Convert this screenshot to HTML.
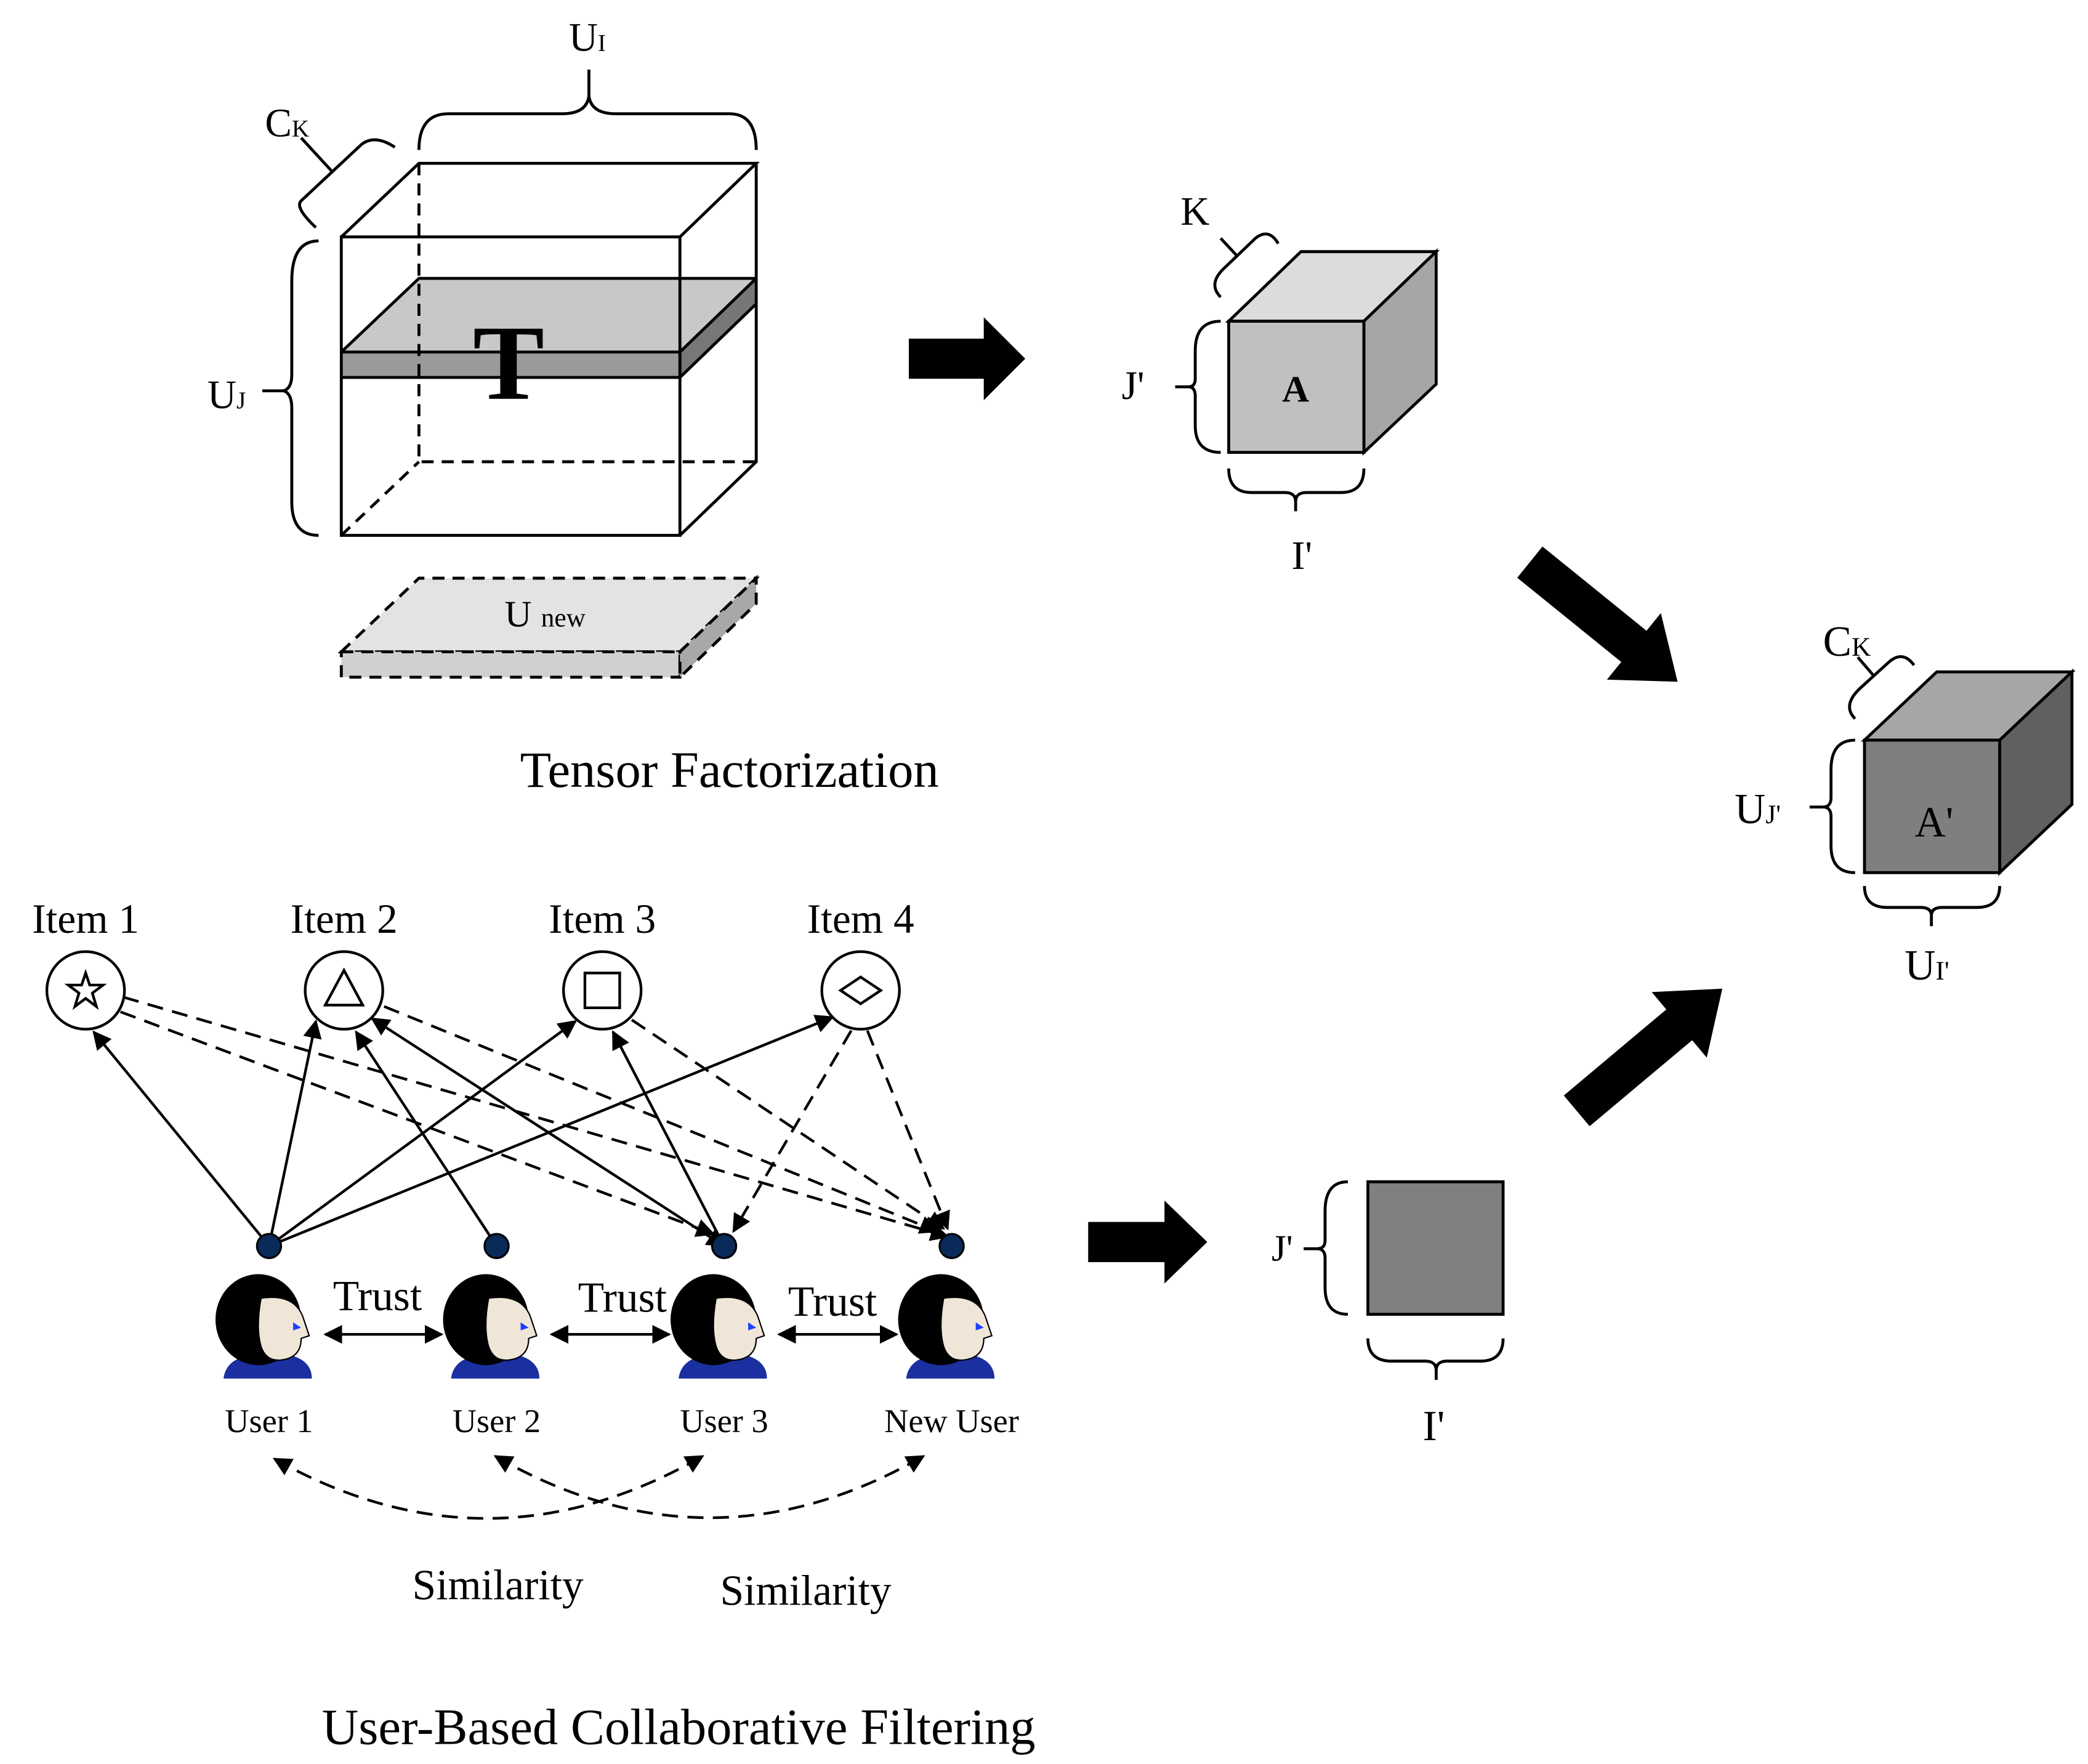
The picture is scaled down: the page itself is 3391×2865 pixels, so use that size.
<!DOCTYPE html>
<html><head><meta charset="utf-8"><style>html,body{margin:0;padding:0;background:#fff}svg{display:block}</style></head><body>
<svg width="3391" height="2865" viewBox="0 0 1560 1318" xmlns="http://www.w3.org/2000/svg" font-family="'Liberation Serif',serif">
<defs>
<marker id="ah" viewBox="0 0 10 10" refX="9" refY="5" markerWidth="7" markerHeight="7" orient="auto-start-reverse"><path d="M0,0 L10,5 L0,10 z" fill="#000"/></marker>
<g id="face">
<path d="M-34,38 Q-32,22 -10,20 L14,20 Q32,24 32,38 z" fill="#1a2fa0"/>
<path d="M-4,14 L10,14 L12,24 L-6,24 z" fill="#efe6d8"/>
<ellipse cx="-8" cy="-6" rx="32" ry="34" fill="#000"/>
<path d="M-6,-22 Q20,-26 26,-6 L30,6 L24,8 Q24,22 10,24 Q-2,26 -6,14 Q-10,0 -6,-22 z" fill="#efe6d8" stroke="#000" stroke-width="1"/>
<path d="M18,-4 L24,0 L18,2" fill="#2040ff"/>
</g>
</defs>
<g fill="none" stroke="#000" stroke-width="2.2">
<polygon points="255,263 313,208 565,208 508,263" fill="#c8c8c8" stroke="none"/>
<polygon points="255,263 508,263 508,282 255,282" fill="#9a9a9a" stroke="none"/>
<polygon points="508,263 565,208 565,227 508,282" fill="#777" stroke="none"/>
<path d="M255,263 L313,208 L565,208 M255,263 L508,263 L565,208 M255,282 L508,282 L565,227 M508,263 L508,282" />
<rect x="255" y="177" width="253" height="223"/>
<path d="M255,177 L313,122 L565,122 L508,177 M565,122 L565,345 L508,400"/>
<path d="M313,122 L313,345 L565,345 M255,400 L313,345" stroke-dasharray="9,6"/>
<polygon points="255,487 313,432 565,432 508,487" fill="#e3e3e3" stroke-dasharray="9,6"/>
<polygon points="255,487 508,487 508,506 255,506" fill="#d0d0d0" stroke-dasharray="9,6"/>
<polygon points="508,487 565,432 565,451 508,506" fill="#a8a8a8" stroke-dasharray="9,6"/>
<path d="M313,112 Q313,85 335,85 L420,85 Q438,85 440,72 Q442,85 460,85 L545,85 Q565,85 565,112"/>
<path d="M440,72 L440,52"/>
<path d="M225,150 Q220,155 236,170 M225,150 L270,108 Q280,100 295,110 M248,128 L225,103"/>
<path d="M238,180 Q218,180 218,210 L218,280 Q218,290 212,292 Q218,294 218,305 L218,375 Q218,400 238,400 M212,292 L196,292"/>
<polygon points="918,240 972,188 1073,188 1019,240" fill="#dcdcdc"/>
<polygon points="1019,240 1073,188 1073,287 1019,338" fill="#a6a6a6"/>
<rect x="918" y="240" width="101" height="98" fill="#c0c0c0"/>
<path d="M912,240 Q893,240 893,262 L893,283 Q893,289 888,289 Q893,289 893,296 L893,318 Q893,338 912,338 M888,289 L878,289"/>
<path d="M918,350 Q918,368 935,368 L960,368 Q968,368 968,375 Q968,368 976,368 L1002,368 Q1019,368 1019,350 M968,370 L968,382"/>
<path d="M912,222 Q902,212 915,200 L938,178 Q948,170 955,182 M925,192 L912,178"/>
<polygon points="1393,553 1447,502 1548,502 1494,553" fill="#a6a6a6"/>
<polygon points="1494,553 1548,502 1548,601 1494,652" fill="#606060"/>
<rect x="1393" y="553" width="101" height="99" fill="#7f7f7f"/>
<path d="M1386,553 Q1368,553 1368,575 L1368,596 Q1368,603 1362,603 Q1368,603 1368,610 L1368,632 Q1368,652 1386,652 M1362,603 L1352,603"/>
<path d="M1393,662 Q1393,678 1410,678 L1435,678 Q1443,678 1443,684 Q1443,678 1451,678 L1477,678 Q1494,678 1494,662 M1443,680 L1443,692"/>
<path d="M1386,537 Q1376,527 1390,514 L1412,494 Q1422,486 1430,497 M1400,505 L1388,491"/>
<rect x="1022" y="883" width="101" height="99" fill="#808080"/>
<path d="M1007,883 Q990,883 990,905 L990,927 Q990,933 984,933 Q990,933 990,940 L990,962 Q990,982 1007,982 M984,933 L974,933"/>
<path d="M1022,1000 Q1022,1017 1040,1017 L1065,1017 Q1073,1017 1073,1024 Q1073,1017 1081,1017 L1106,1017 Q1123,1017 1123,1000 M1073,1019 L1073,1031"/>
</g>
<g fill="#000">
<polygon points="679,253 735,253 735,237 766,268 735,299 735,283 679,283"/>
<polygon points="813,913 870,913 870,897 902,928 870,959 870,943 813,943"/>
<polygon points="0,-15 100,-15 100,-32 142,0 100,32 100,15 0,15" transform="translate(1143,420) rotate(39)"/>
<polygon points="0,-15 100,-15 100,-32 142,0 100,32 100,15 0,15" transform="translate(1178,830) rotate(-40)"/>
</g>
<g font-size="30">
<text x="425" y="38">U<tspan font-size="18">I</tspan></text>
<text x="198" y="102">C<tspan font-size="18">K</tspan></text>
<text x="155" y="305">U<tspan font-size="18">J</tspan></text>
<text x="377" y="468" font-size="28">U <tspan font-size="20">new</tspan></text>
<text x="545" y="588" font-size="38" text-anchor="middle">Tensor Factorization</text>
<text x="380" y="298" font-size="80" font-weight="bold" text-anchor="middle">T</text>
<text x="968" y="300" font-size="28" font-weight="bold" text-anchor="middle">A</text>
<text x="882" y="168">K</text>
<text x="838" y="298">J'</text>
<text x="965" y="425">I'</text>
<text x="1445" y="625" font-size="32" text-anchor="middle">A'</text>
<text x="1362" y="490" font-size="32">C<tspan font-size="20">K</tspan></text>
<text x="1296" y="615" font-size="32">U<tspan font-size="20">J'</tspan></text>
<text x="1423" y="732" font-size="32">U<tspan font-size="20">I'</tspan></text>
<text x="950" y="942" font-size="28">J'</text>
<text x="1063" y="1076" font-size="32">I'</text>
</g>
<g font-size="31" text-anchor="middle">
<text x="64" y="697">Item 1</text><text x="257" y="697">Item 2</text><text x="450" y="697">Item 3</text><text x="643" y="697">Item 4</text>
</g>
<g fill="none" stroke="#000" stroke-width="2">
<circle cx="64" cy="740" r="29"/><circle cx="257" cy="740" r="29"/><circle cx="450" cy="740" r="29"/><circle cx="643" cy="740" r="29"/>
<polygon points="64,727 67,736 77,736 69,742 72,752 64,746 56,752 59,742 51,736 61,736"/>
<polygon points="257,725 271,751 243,751"/>
<rect x="437" y="727" width="26" height="26"/>
<polygon points="643,730 658,740 643,750 628,740"/>
<path d="M201,931 L70,771" marker-end="url(#ah)"/>
<path d="M201,931 L236,763" marker-end="url(#ah)"/>
<path d="M201,931 L430,763" marker-end="url(#ah)"/>
<path d="M201,931 L622,760" marker-end="url(#ah)"/>
<path d="M371,931 L266,771" marker-end="url(#ah)"/>
<path d="M541,931 L278,761" marker-end="url(#ah)" marker-start="url(#ah)"/>
<path d="M541,931 L458,771" marker-end="url(#ah)"/>
<g stroke-dasharray="12,7">
<path d="M92,745 L708,924" marker-end="url(#ah)"/>
<path d="M90,756 L533,922" marker-end="url(#ah)"/>
<path d="M287,752 L700,920" marker-end="url(#ah)"/>
<path d="M472,762 L705,918" marker-end="url(#ah)"/>
<path d="M636,770 L548,920" marker-end="url(#ah)"/>
<path d="M648,770 L708,918" marker-end="url(#ah)"/>
<path d="M205,1090 Q365,1180 525,1088" marker-end="url(#ah)" marker-start="url(#ah)"/>
<path d="M370,1088 Q530,1180 690,1088" marker-end="url(#ah)" marker-start="url(#ah)"/>
</g>
<path d="M243,997 L330,997" marker-end="url(#ah)" marker-start="url(#ah)"/>
<path d="M412,997 L500,997" marker-end="url(#ah)" marker-start="url(#ah)"/>
<path d="M582,997 L670,997" marker-end="url(#ah)" marker-start="url(#ah)"/>
</g>
<g fill="#0a2a5a" stroke="#000" stroke-width="1.5">
<circle cx="201" cy="931" r="9"/><circle cx="371" cy="931" r="9"/><circle cx="541" cy="931" r="9"/><circle cx="711" cy="931" r="9"/>
</g>
<use href="#face" x="201" y="992"/><use href="#face" x="371" y="992"/><use href="#face" x="541" y="992"/><use href="#face" x="711" y="992"/>
<g font-size="32" text-anchor="middle">
<text x="282" y="979">Trust</text><text x="465" y="980">Trust</text><text x="622" y="983">Trust</text>
<text x="372" y="1195">Similarity</text><text x="602" y="1199">Similarity</text>
<text x="507" y="1303" font-size="38">User-Based Collaborative Filtering</text>
</g>
<g font-size="25" text-anchor="middle">
<text x="201" y="1070">User 1</text><text x="371" y="1070">User 2</text><text x="541" y="1070">User 3</text><text x="711" y="1070">New User</text>
</g>
</svg>
</body></html>
